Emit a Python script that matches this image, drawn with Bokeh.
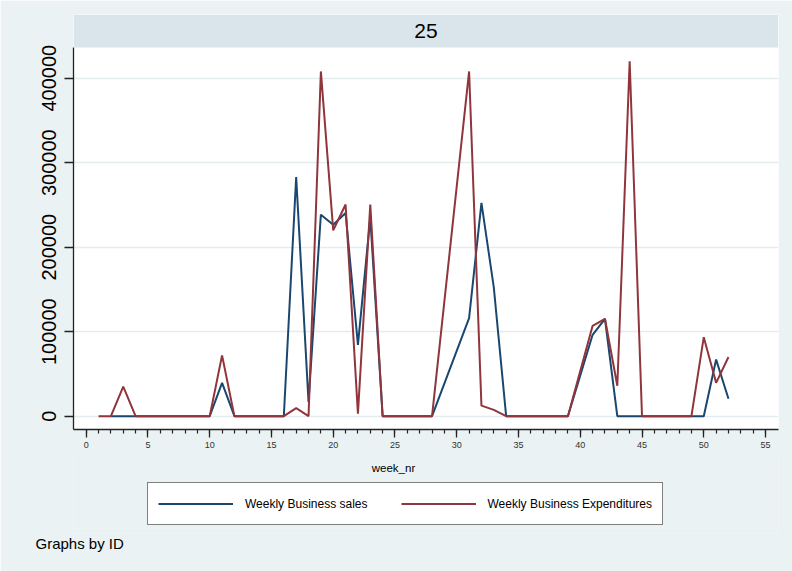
from bokeh.plotting import figure
from bokeh.layouts import column
from bokeh.models import (Range1d, FixedTicker, BoxAnnotation, Label, Legend, LegendItem,
                          ColumnDataSource, NumeralTickFormatter, Title)
from bokeh.embed import file_html
from bokeh.resources import INLINE

# ---- data ----
weeks = list(range(1, 53))
sales = [None, 0, 0, 0, 0, 0, 0, 0, 0, 0,
         39500, 0, 0, 0, 0, 0, 283000, 17000, 238500, 226500,
         240500, 84500, 235000, 0, 0, 0, 0, 0, None, None,
         116000, 252500, 152500, 0, 0, 0, 0, 0, 0, None,
         96300, 115300, 0, 0, 0, 0, 0, 0, 0, 0,
         67000, 20600]
expend = [0, 0, 35000, 0, 0, 0, 0, 0, 0, 0,
          72000, 0, 0, 0, 0, 0, 9500, 0, 408000, 220000,
          250500, 3000, 250500, 0, 0, 0, 0, 0, None, None,
          408000, 12500, 7500, 0, 0, 0, 0, 0, 0, None,
          107000, 115300, 36000, 420000, 0, 0, 0, 0, 0, 93500,
          39500, 70000]
panel_label = "25"
y_ticks = [0, 100000, 200000, 300000, 400000]
x_major = list(range(0, 56, 5))
x_minor = list(range(0, 56))
series_names = ["Weekly Business sales", "Weekly Business Expenditures"]
x_title = "week_nr"
note = "Graphs by ID"

BG = "#eaf2f3"
STRIP = "#d9e5ea"
NAVY = "#1a476f"
MAROON = "#90353b"
FONT = "Liberation Sans"

def present(xs, ys):
    pts = [(x, y) for x, y in zip(xs, ys) if y is not None]
    return ColumnDataSource(dict(x=[q[0] for q in pts], y=[q[1] for q in pts]))

p = figure(width=792, height=455, output_backend="svg", toolbar_location=None,
           x_range=Range1d(-1.028, 56.05), y_range=Range1d(-15740, 475380),
           min_border_left=73, min_border_right=14, min_border_top=14, min_border_bottom=26)
p.background_fill_color = "white"
p.border_fill_color = BG
p.outline_line_color = None

# strip header
p.add_layout(BoxAnnotation(bottom=436330, fill_color=STRIP, fill_alpha=1, line_color=None))
p.add_layout(Label(x=27.51, y=455900, text=panel_label, text_align="center", text_baseline="middle",
                   text_font=FONT, text_font_size="21px", text_color="black"))

# grid
p.xgrid.visible = False
p.ygrid.ticker = FixedTicker(ticks=y_ticks)
p.ygrid.grid_line_color = "#e3ecef"
p.ygrid.grid_line_width = 1.6

# axes
ya = p.yaxis[0]
ya.ticker = FixedTicker(ticks=y_ticks)
ya.formatter = NumeralTickFormatter(format="0")
ya.bounds = (-15740, 436330)
ya.major_label_orientation = "vertical"
ya.major_label_text_font = FONT
ya.major_label_text_font_size = "20px"
ya.major_label_text_color = "black"
ya.major_tick_out = 9
ya.major_tick_in = 0
ya.minor_tick_out = 0
ya.minor_tick_in = 0
ya.major_label_standoff = 8
ya.axis_line_color = "#222222"
ya.major_tick_line_color = "#222222"
ya.axis_line_width = 1.3
ya.major_tick_line_width = 1.3

xa = p.xaxis[0]
xa.ticker = FixedTicker(ticks=x_major, minor_ticks=x_minor)
xa.major_label_text_font = FONT
xa.major_label_text_font_size = "9px"
xa.major_label_text_color = "#333333"
xa.major_tick_out = 8
xa.major_tick_in = 0
xa.minor_tick_out = 4
xa.minor_tick_in = 0
xa.major_label_standoff = 4
xa.axis_line_color = "#222222"
xa.major_tick_line_color = "#222222"
xa.minor_tick_line_color = "#222222"
xa.axis_line_width = 1.3
xa.major_tick_line_width = 1.3
xa.minor_tick_line_width = 1.2

# lines
p.line("x", "y", source=present(weeks, sales), line_color=NAVY, line_width=2)
p.line("x", "y", source=present(weeks, expend), line_color=MAROON, line_width=2)

# ---- lower panel: axis title, legend, note ----
q = figure(width=792, height=118, output_backend="svg", toolbar_location=None,
           x_range=Range1d(0, 1), y_range=Range1d(0, 1),
           x_axis_location=None, y_axis_location=None,
           min_border_left=73, min_border_right=14, min_border_top=0, min_border_bottom=38)
q.margin = (-2, 0, 0, 0)
q.grid.visible = False
q.background_fill_color = BG
q.border_fill_color = BG
q.outline_line_color = None

q.add_layout(Label(x=320, y=66, x_units="screen", y_units="screen", text=x_title,
                   text_align="center", text_baseline="middle", text_font=FONT,
                   text_font_size="11.5px", text_color="black"))
q.add_layout(Title(text=note, align="left", offset=-38, standoff=0, vertical_align="middle",
                   text_font=FONT, text_font_size="15px", text_font_style="normal",
                   text_color="black"), "below")

nan = float("nan")
k1 = q.line("x", "y", source=ColumnDataSource(dict(x=[nan], y=[nan])), line_color=NAVY, line_width=2)
k2 = q.line("x", "y", source=ColumnDataSource(dict(x=[nan], y=[nan])), line_color=MAROON, line_width=2)
legend = Legend(items=[LegendItem(label=series_names[0], renderers=[k1]),
                       LegendItem(label=series_names[1], renderers=[k2])],
                orientation="horizontal", location=(74, 8), margin=0, padding=10,
                spacing=33, glyph_width=75, glyph_height=21, label_height=21, label_standoff=12,
                label_text_font=FONT, label_text_font_size="12px", label_text_color="black",
                border_line_color="black", border_line_width=1, background_fill_color="white",
                background_fill_alpha=1)
q.add_layout(legend, "center")

layout = column(p, q, spacing=0)
open("out.html", "w").write(file_html(layout, INLINE))
